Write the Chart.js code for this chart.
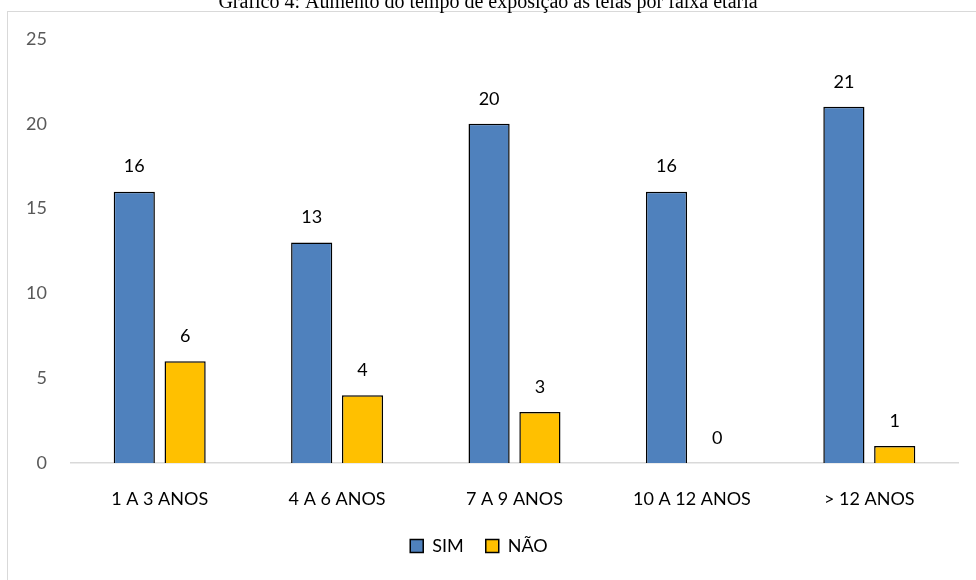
<!DOCTYPE html>
<html>
<head>
<meta charset="utf-8">
<script src="https://cdn.jsdelivr.net/npm/chart.js@4/dist/chart.umd.min.js"></script>
<style>
  html, body { margin: 0; padding: 0; background: #fff; }
  #wrap { width: 976px; height: 580px; position: relative; }
</style>
</head>
<body>
<div id="wrap"><canvas id="c" width="976" height="580"></canvas></div>
<script>
const chartTitle = 'Gráfico 4: Aumento do tempo de exposição às telas por faixa etária';
const categories = ['1 A 3 ANOS', '4 A 6 ANOS', '7 A 9 ANOS', '10 A 12 ANOS', '> 12 ANOS'];
const simValues = [16, 13, 20, 16, 21];
const naoValues = [6, 4, 3, 0, 1];
const seriesNames = ['SIM', 'NÃO'];
const yTicks = [0, 5, 10, 15, 20, 25];

const FONT = 'Lato, "Open Sans", sans-serif';

// Outer frame and the caption above it
const framePlugin = {
  id: 'frame',
  beforeDraw(chart) {
    const ctx = chart.ctx;
    ctx.save();
    ctx.fillStyle = '#fff';
    ctx.fillRect(0, 0, chart.width, chart.height);
    ctx.strokeStyle = '#d9d9d9';
    ctx.lineWidth = 1;
    ctx.strokeRect(7.5, 11.5, chart.width, chart.height);
    ctx.fillStyle = '#000';
    ctx.font = '20px "Liberation Serif", "Times New Roman", serif';
    ctx.textAlign = 'center';
    ctx.textBaseline = 'alphabetic';
    ctx.fillText(chartTitle, 488, 8);
    ctx.restore();
  }
};

// Value labels above each bar
const valueLabels = {
  id: 'valueLabels',
  afterDatasetsDraw(chart) {
    const ctx = chart.ctx;
    ctx.save();
    ctx.fillStyle = '#000';
    ctx.font = '18px ' + FONT;
    ctx.textAlign = 'center';
    ctx.textBaseline = 'middle';
    chart.data.datasets.forEach((ds, di) => {
      chart.getDatasetMeta(di).data.forEach((bar, i) => {
        ctx.fillText(String(ds.data[i]), bar.x, bar.y - 25);
      });
    });
    ctx.restore();
  }
};

new Chart(document.getElementById('c'), {
  type: 'bar',
  data: {
    labels: categories,
    datasets: [
      {
        label: seriesNames[0],
        data: simValues,
        backgroundColor: '#4f81bd',
        borderColor: '#000',
        borderWidth: 1.5,
        borderSkipped: 'bottom',
        categoryPercentage: 0.573,
        barPercentage: 0.81
      },
      {
        label: seriesNames[1],
        data: naoValues,
        backgroundColor: '#ffc000',
        borderColor: '#000',
        borderWidth: 1.5,
        borderSkipped: 'bottom',
        categoryPercentage: 0.573,
        barPercentage: 0.81
      }
    ]
  },
  options: {
    responsive: false,
    animation: false,
    devicePixelRatio: 1,
    layout: { padding: { top: 39, right: 18, left: 0, bottom: 15 } },
    plugins: {
      title: { display: false },
      tooltip: { enabled: false },
      legend: {
        position: 'bottom',
        labels: {
          color: '#000',
          font: { family: FONT, size: 18 },
          boxWidth: 13,
          boxHeight: 13,
          padding: 22,
          generateLabels(chart) {
            return chart.data.datasets.map((ds, i) => ({
              text: ds.label,
              fillStyle: ds.backgroundColor,
              strokeStyle: '#000',
              lineWidth: 1.5,
              datasetIndex: i,
              hidden: false
            }));
          }
        }
      }
    },
    scales: {
      x: {
        grid: { display: false, drawTicks: false },
        border: { display: true, color: '#d9d9d9', width: 1.5 },
        ticks: { color: '#000', font: { family: FONT, size: 18 }, padding: 25, maxRotation: 0 },
        afterFit(scale) { scale.height = 52; }
      },
      y: {
        min: 0,
        max: 25,
        grid: { display: false, drawTicks: false },
        border: { display: false },
        ticks: {
          color: '#595959',
          font: { family: FONT, size: 18 },
          padding: 24,
          stepSize: 5,
          callback: (v) => yTicks.includes(v) ? String(v) : ''
        },
        afterFit(scale) { scale.width = 71; }
      }
    }
  },
  plugins: [framePlugin, valueLabels]
});
</script>
</body>
</html>
